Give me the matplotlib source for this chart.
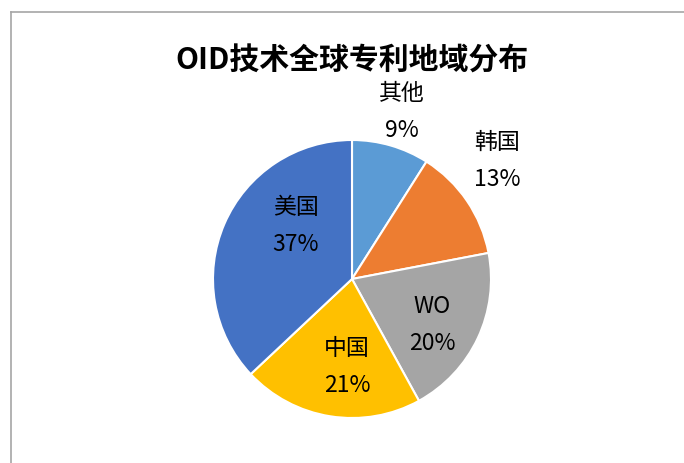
import matplotlib.pyplot as plt

plt.rcParams['font.family'] = ['Noto Sans CJK SC', 'DejaVu Sans']

# data
regions = ['其他', '韩国', 'WO', '中国', '美国']
shares = [9, 13, 20, 21, 37]
colors = ['#5B9BD5', '#ED7D31', '#A5A5A5', '#FFC000', '#4472C4']
title = 'OID技术全球专利地域分布'

# label centres in pixels (x, y from top), as Excel placed them
label_pos = [(402, 112), (497, 161), (432, 325), (347, 367), (296, 226)]

W, H = 684, 463
fig = plt.figure(figsize=(W / 100, H / 100), dpi=100)
ax = fig.add_axes([0, 0, 1, 1])

ax.pie(shares, colors=colors, startangle=90, counterclock=False,
       center=(352, H - 279), radius=139,
       wedgeprops=dict(edgecolor='white', linewidth=1.5))

# pie() resets the limits, so set them afterwards
ax.set_xlim(0, W)
ax.set_ylim(0, H)
ax.set_aspect('equal')
ax.axis('off')

# chart frame (only top and left visible in the crop)
ax.plot([10.5, W + 5], [H - 11.5, H - 11.5], color='#A6A6A6', lw=1.2)
ax.plot([10.5, 10.5], [-5, H - 11.5], color='#A6A6A6', lw=1.2)

for name, val, (px, py) in zip(regions, shares, label_pos):
    ax.text(px, H - py, f'{name}\n{val}%', ha='center', va='center',
            fontsize=16.5, linespacing=1.75, color='black')

ax.text(352, H - 61, title, ha='center', va='center',
        fontsize=21.5, fontweight='bold')

fig.savefig('out.png', dpi=100)
